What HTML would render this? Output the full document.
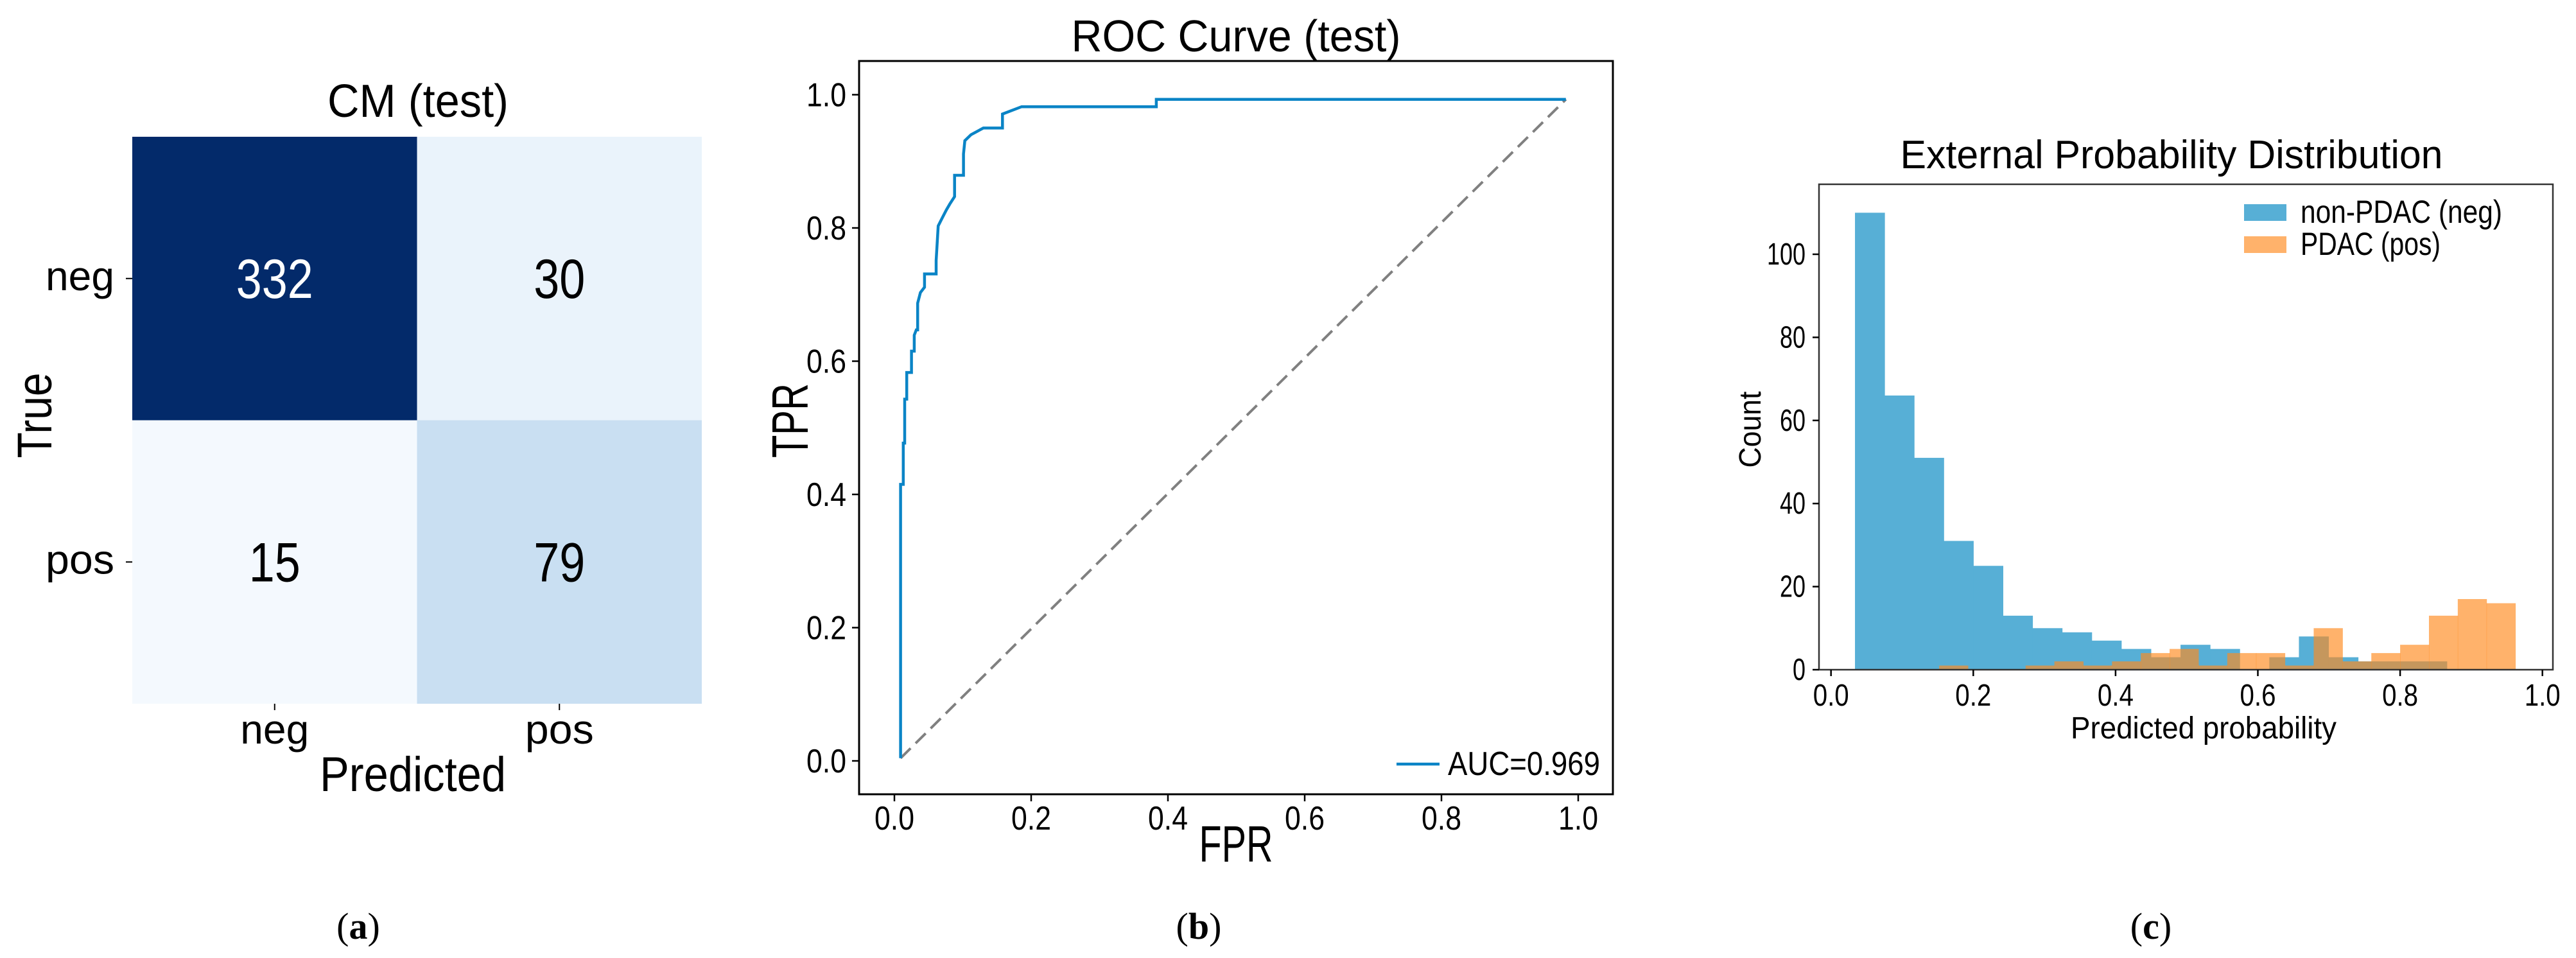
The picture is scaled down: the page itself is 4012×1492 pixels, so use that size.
<!DOCTYPE html>
<html><head><meta charset="utf-8">
<style>
html,body{margin:0;padding:0;background:#fff;}
svg{display:block;font-family:"Liberation Sans Narrow","Liberation Sans",sans-serif;}
</style></head>
<body>
<svg id="fig" xmlns="http://www.w3.org/2000/svg" width="4012" height="1492" viewBox="0 0 4012 1492">
  <g id="cm"></g>
  <g id="roc"></g>
  <g id="hist"></g>
  <text x="558" y="1462" text-anchor="middle" font-family="Liberation Serif,serif" font-size="58">(<tspan font-weight="bold">a</tspan>)</text>
  <text x="1867" y="1462" text-anchor="middle" font-family="Liberation Serif,serif" font-size="58">(<tspan font-weight="bold">b</tspan>)</text>
  <text x="3350" y="1462" text-anchor="middle" font-family="Liberation Serif,serif" font-size="58">(<tspan font-weight="bold">c</tspan>)</text>
</svg>
<script>
// ---- Confusion matrix data ----
const cmLabels = ["neg", "pos"];
const cmValues = [[332, 30], [15, 79]];
// ---- ROC data ----
const rocFpr = [0.009,0.009,0.013,0.013,0.015,0.015,0.018,0.018,0.025,0.025,0.029,0.029,0.032,0.034,0.034,0.038,0.044,0.044,0.061,0.061,0.064,0.070,0.076,0.081,0.088,0.088,0.092,0.101,0.101,0.103,0.112,0.130,0.158,0.158,0.186,0.383,0.383,0.982];
const rocTpr = [0.004,0.415,0.415,0.477,0.477,0.543,0.543,0.583,0.583,0.615,0.615,0.639,0.647,0.647,0.687,0.703,0.711,0.731,0.731,0.751,0.803,0.815,0.827,0.836,0.847,0.879,0.879,0.879,0.911,0.931,0.940,0.950,0.950,0.971,0.982,0.982,0.993,0.993];
const rocTicks = ["0.0","0.2","0.4","0.6","0.8","1.0"];
const rocAuc = "AUC=0.969";
// ---- Histogram data ----
const negStart = 0.0337, negWidth = 0.0416;
const negCounts = [110,66,51,31,25,13,10,9,7,5,3,6,5,0,3,8,3,2,2,2];
const posStart = 0.152, posWidth = 0.0405;
const posCounts = [1,0,0,1,2,1,2,4,5,1,4,4,1,10,2,4,6,13,17,16];
const histXTicks = ["0.0","0.2","0.4","0.6","0.8","1.0"];
const histYTicks = [0,20,40,60,80,100];

const NS="http://www.w3.org/2000/svg";
function mk(parent, tag, attrs, text){
  const e=document.createElementNS(NS,tag);
  for(const k in attrs) e.setAttribute(k,attrs[k]);
  if(text!==undefined) e.textContent=text;
  parent.appendChild(e); return e;
}
function fit(e,len){ e.setAttribute('textLength',len); e.setAttribute('lengthAdjust','spacingAndGlyphs'); }

// ===== Confusion matrix =====
(function(){
  const g=document.getElementById('cm');
  const L=206,T=213,W=887,H=883, cw=W/2, ch=H/2;
  const fills={"0,0":"#032a6a","0,1":"#eaf3fb","1,0":"#f4f9fe","1,1":"#c9dff2"};
  for(let r=0;r<2;r++)for(let c=0;c<2;c++){
    const v=cmValues[r][c];
    const rect=mk(g,'rect',{x:L+c*cw,y:T+r*ch,width:cw,height:ch,fill:fills[r+","+c]});
    
    
    const t=mk(g,'text',{x:L+c*cw+cw/2,y:T+r*ch+ch/2+30,'text-anchor':'middle','font-size':86,fill:v>200?'#fff':'#000'},String(v));
    
    
    fit(t, String(v).length*40);
  }
  cmLabels.forEach((lab,i)=>{
    const y=T+i*ch+ch/2;
    mk(g,'line',{x1:L-10,x2:L,y1:y,y2:y,stroke:'#000','stroke-width':2});
    const t=mk(g,'text',{x:L-28,y:y+18,'text-anchor':'end','font-size':64},lab);
    
    
    fit(t,107);
    const x=L+i*cw+cw/2;
    mk(g,'line',{x1:x,x2:x,y1:T+H,y2:T+H+10,stroke:'#000','stroke-width':2});
    const t2=mk(g,'text',{x:x,y:1158,'text-anchor':'middle','font-size':64},lab);
    
    
    fit(t2,107);
  });
  const ti=mk(g,'text',{x:651,y:182,'text-anchor':'middle','font-size':72},'CM (test)');
  
  
  fit(ti,282);
  const xl=mk(g,'text',{x:643,y:1232,'text-anchor':'middle','font-size':76},'Predicted');
  
  
  fit(xl,290);
  const yl=mk(g,'text',{x:0,y:0,'text-anchor':'middle','font-size':76,transform:'translate(80,647) rotate(-90)'},'True');
  
  
  fit(yl,133);
})();

// ===== ROC =====
(function(){
  const g=document.getElementById('roc');
  const bx=1338,by=95,bw=2512-1338,bh=1237-95;
  const sx=v=>1393+v*1065, sy=v=>1185-v*1037.5;
  mk(g,'rect',{x:bx,y:by,width:bw,height:bh,fill:'none',stroke:'#000','stroke-width':3});
  rocTicks.forEach((lab,i)=>{
    const v=parseFloat(lab);
    mk(g,'line',{x1:sx(v),x2:sx(v),y1:by+bh,y2:by+bh+11,stroke:'#000','stroke-width':2.5});
    const t=mk(g,'text',{x:sx(v),y:1292,'text-anchor':'middle','font-size':52},lab);
    
    
    fit(t,62);
    mk(g,'line',{x1:bx-11,x2:bx,y1:sy(v),y2:sy(v),stroke:'#000','stroke-width':2.5});
    const t2=mk(g,'text',{x:1318,y:sy(v)+18,'text-anchor':'end','font-size':52},lab);
    
    
    fit(t2,62);
  });
  const d=mk(g,'line',{x1:sx(rocFpr[0]),y1:sy(rocTpr[0]),x2:sx(rocFpr[rocFpr.length-1]),y2:sy(rocTpr[rocTpr.length-1]),stroke:'#808080','stroke-width':4,'stroke-dasharray':'22,11'});
  
  
  const pts=rocFpr.map((f,i)=>sx(f).toFixed(1)+','+sy(rocTpr[i]).toFixed(1)).join(' ');
  const pl=mk(g,'polyline',{points:pts,fill:'none',stroke:'#0a84c6','stroke-width':4.5,'stroke-linejoin':'miter'});
  
  
  mk(g,'line',{x1:2175,x2:2242,y1:1190,y2:1190,stroke:'#0a84c6','stroke-width':4.5});
  const lt=mk(g,'text',{x:2255,y:1207,'font-size':52},rocAuc);
  
  
  fit(lt,237);
  const ti=mk(g,'text',{x:1925,y:80,'text-anchor':'middle','font-size':70},'ROC Curve (test)');
  
  
  fit(ti,513);
  const xl=mk(g,'text',{x:1925,y:1342,'text-anchor':'middle','font-size':80},'FPR');
  
  
  fit(xl,115);
  const yl=mk(g,'text',{x:0,y:0,'text-anchor':'middle','font-size':80,transform:'translate(1258,655) rotate(-90)'},'TPR');
  
  
  fit(yl,116);
})();

// ===== Histogram =====
(function(){
  const g=document.getElementById('hist');
  const bx=2833,by=287,bw=3976-2833,bh=1043-287;
  const sx=v=>2851.7+v*1108, sy=v=>1043-v*6.47;
  negCounts.forEach((c,i)=>{
    if(!c) return;
    const x0=sx(negStart+i*negWidth), x1=sx(negStart+(i+1)*negWidth);
    const r=mk(g,'rect',{x:x0,y:sy(c),width:x1-x0+0.5,height:sy(0)-sy(c),fill:'#57afd6'});
    
    
  });
  posCounts.forEach((c,i)=>{
    if(!c) return;
    const x0=sx(posStart+i*posWidth), x1=sx(posStart+(i+1)*posWidth);
    const r=mk(g,'rect',{x:x0,y:sy(c),width:x1-x0+0.5,height:sy(0)-sy(c),fill:'#ff8a1e','fill-opacity':0.66});
    
    
  });
  mk(g,'rect',{x:bx,y:by,width:bw,height:bh,fill:'none',stroke:'#333','stroke-width':2.5});
  histXTicks.forEach(lab=>{
    const v=parseFloat(lab);
    mk(g,'line',{x1:sx(v),x2:sx(v),y1:by+bh,y2:by+bh+10,stroke:'#000','stroke-width':2.5});
    const t=mk(g,'text',{x:sx(v),y:1099,'text-anchor':'middle','font-size':48},lab);
    
    
    fit(t,56);
  });
  histYTicks.forEach(v=>{
    mk(g,'line',{x1:bx-10,x2:bx,y1:sy(v),y2:sy(v),stroke:'#000','stroke-width':2.5});
    const t=mk(g,'text',{x:2812,y:sy(v)+16,'text-anchor':'end','font-size':48},String(v));
    
    
    fit(t,String(v).length*20);
  });
  mk(g,'rect',{x:3495,y:318,width:66,height:26,fill:'#57afd6'});
  const l1=mk(g,'text',{x:3583,y:347,'font-size':50},'non-PDAC (neg)');
  
  
  fit(l1,314);
  mk(g,'rect',{x:3495,y:368,width:66,height:26,fill:'#ff8a1e','fill-opacity':0.66});
  const l2=mk(g,'text',{x:3583,y:397,'font-size':50},'PDAC (pos)');
  
  
  fit(l2,218);
  const ti=mk(g,'text',{x:3382,y:262,'text-anchor':'middle','font-size':62},'External Probability Distribution');
  
  
  fit(ti,845);
  const xl=mk(g,'text',{x:3432,y:1150,'text-anchor':'middle','font-size':48},'Predicted probability');
  
  
  fit(xl,414);
  const yl=mk(g,'text',{x:0,y:0,'text-anchor':'middle','font-size':48,transform:'translate(2742,669) rotate(-90)'},'Count');
  
  
  fit(yl,119);
})();
</script>
</body></html>
